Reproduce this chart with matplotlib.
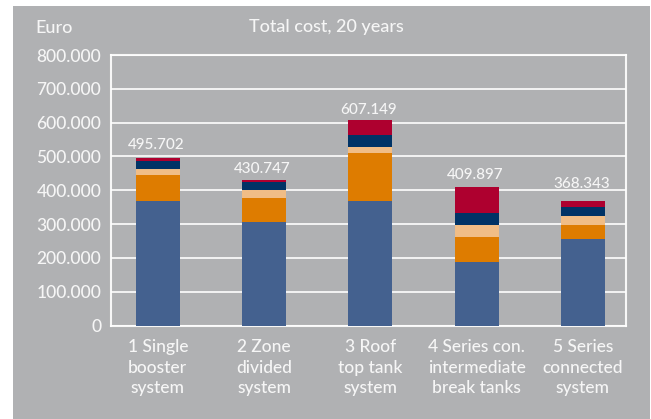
import numpy as np
import matplotlib.pyplot as plt
from matplotlib.patches import Rectangle

plt.rcParams['font.family'] = ['Lato', 'DejaVu Sans']
plt.rcParams['font.weight'] = 'medium'

# values in thousand euro
systems = ["1 Single\nbooster\nsystem", "2 Zone\ndivided\nsystem", "3 Roof\ntop tank\nsystem",
           "4 Series con.\nintermediate\nbreak tanks", "5 Series\nconnected\nsystem"]
totals = [495.702, 430.747, 607.149, 409.897, 368.343]
part_blue = [367, 305, 367, 188, 256]
part_orange = [77, 71, 143, 74, 42]
part_light = [18, 24, 18, 36, 27]
part_navy = [24, 24, 36, 36, 24]
part_red = [9.702, 6.747, 43.149, 75.897, 19.343]

colors = ["#44618f", "#de7c00", "#f0bd86", "#003366", "#ae002f"]
bg = "#b0b1b3"
txt = "#f6f6f6"
label_pad = [4.5, 3, 2.5, 3.5, 7]  # points above each bar top

fig = plt.figure(figsize=(6.51, 4.19), dpi=100)
fig.patch.set_facecolor("white")
fig.patches.append(Rectangle((13/651, 0), 637/651, 1 - 6/419, transform=fig.transFigure,
                             facecolor=bg, edgecolor="none", zorder=-10))

ax = fig.add_axes([111/651, (419-325.5)/419, 515/651, (325.5-55)/419])
ax.set_facecolor(bg)

x = np.arange(len(systems))
bottom = np.zeros(len(systems))
for vals, c in zip([part_blue, part_orange, part_light, part_navy, part_red], colors):
    v = np.array(vals) * 1000
    ax.bar(x, v, bottom=bottom, width=0.415, color=c, zorder=3)
    bottom += v

for xi, t in zip(x, totals):
    ax.annotate(f"{t:.3f}", (xi, bottom[xi]), xytext=(-1, label_pad[xi]), textcoords="offset points",
                ha="center", va="bottom", color=txt, fontsize=11, zorder=5)

ax.set_xlim(-0.44, 4.405)
ax.set_ylim(0, 800000)
ax.set_yticks(np.arange(0, 800001, 100000))
ax.set_yticklabels(["0"] + [f"{v}.000" for v in range(100, 801, 100)])
ax.set_xticks(x)
ax.set_xticklabels(systems, linespacing=1.35)
ax.tick_params(length=0, colors=txt, labelsize=12.5)
ax.tick_params(axis="y", pad=7)
ax.tick_params(axis="x", pad=10)
ax.grid(axis="y", color="white", lw=1.4, alpha=0.85, zorder=1)
for s in ax.spines.values():
    s.set_color("white")
    s.set_linewidth(1.5)
    s.set_alpha(0.9)

fig.text(35/651, 1 - 28/419, "Euro", color=txt, fontsize=13, va="center")
fig.text(326/651, 1 - 27/419, "Total cost, 20 years", color=txt, fontsize=13,
         ha="center", va="center")

fig.savefig("out.png", dpi=100)
